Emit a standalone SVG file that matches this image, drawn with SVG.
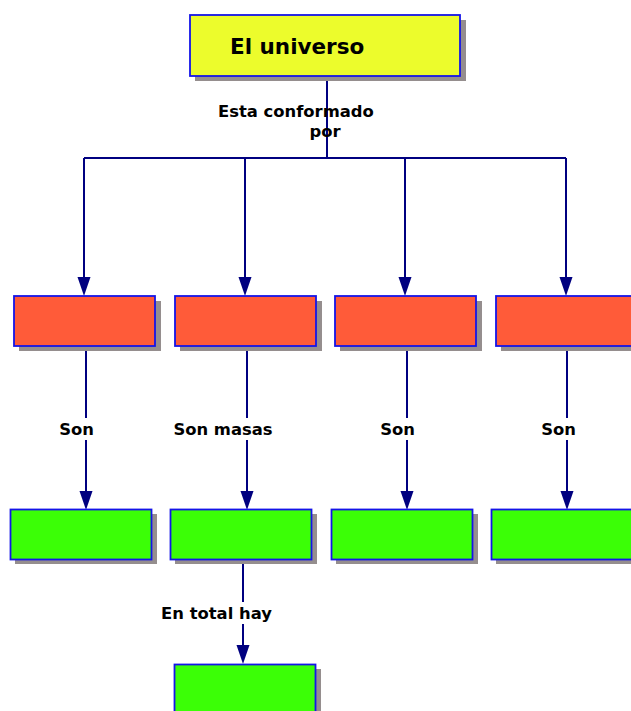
<svg xmlns="http://www.w3.org/2000/svg" width="631" height="711" viewBox="0 0 631 711">
<style>
.box{stroke:#1414e8;stroke-width:1.8}
.sh{fill:#958e8e}
.top{fill:#ecfc2c}
.org{fill:#ff5b39}
.grn{fill:#3bff06}
.ln{stroke:#000080;stroke-width:2;fill:none}
.lbl{font-family:"DejaVu Sans",Verdana,sans-serif;font-weight:bold;font-size:16.4px;fill:#000}
.bg{fill:#fff}
.ah{fill:#000080}
</style>
<g id="connectors">
<path class="ln" d="M327,77 V158"/>
<path class="ln" d="M84,158 H566"/>
<line class="ln" x1="84" y1="158" x2="84" y2="278"/>
<line class="ln" x1="245" y1="158" x2="245" y2="278"/>
<line class="ln" x1="405" y1="158" x2="405" y2="278"/>
<line class="ln" x1="566" y1="158" x2="566" y2="278"/>
<path class="ah" d="M77.5,277 H90.5 L84,296 Z"/>
<path class="ah" d="M238.5,277 H251.5 L245,296 Z"/>
<path class="ah" d="M398.5,277 H411.5 L405,296 Z"/>
<path class="ah" d="M559.5,277 H572.5 L566,296 Z"/>
<line class="ln" x1="86" y1="350" x2="86" y2="492"/>
<line class="ln" x1="247" y1="350" x2="247" y2="492"/>
<line class="ln" x1="407" y1="350" x2="407" y2="492"/>
<line class="ln" x1="567" y1="350" x2="567" y2="492"/>
<path class="ah" d="M79.5,491 H92.5 L86,510 Z"/>
<path class="ah" d="M240.5,491 H253.5 L247,510 Z"/>
<path class="ah" d="M400.5,491 H413.5 L407,510 Z"/>
<path class="ah" d="M560.5,491 H573.5 L567,510 Z"/>
<line class="ln" x1="243" y1="563" x2="243" y2="646"/>
<path class="ah" d="M236.5,645 H249.5 L243,664 Z"/>
<text class="lbl" x="218" y="117">Esta conformado</text>
<text class="lbl" x="325" y="137" text-anchor="middle">por</text>
<rect class="bg" x="57" y="418" width="39" height="22"/>
<text class="lbl" x="76.5" y="435" text-anchor="middle">Son</text>
<rect class="bg" x="171" y="418" width="104" height="22"/>
<text class="lbl" x="223" y="435" text-anchor="middle">Son masas</text>
<rect class="bg" x="378" y="418" width="39" height="22"/>
<text class="lbl" x="397.5" y="435" text-anchor="middle">Son</text>
<rect class="bg" x="539" y="418" width="39" height="22"/>
<text class="lbl" x="558.5" y="435" text-anchor="middle">Son</text>
<rect class="bg" x="159" y="602" width="116" height="22"/>
<text class="lbl" x="216.5" y="619" text-anchor="middle">En total hay</text>
</g>
<g id="n-universo">
<rect class="sh" x="195" y="20" width="271" height="61"/>
<rect class="box top" x="190" y="15" width="270" height="61"/>
<text x="230" y="54" font-family="DejaVu Sans, Verdana, sans-serif" font-weight="bold" font-size="21.5">El universo</text>
</g>
<g id="n-o1"><rect class="sh" x="19" y="301" width="142" height="50"/><rect class="box org" x="14" y="296" width="141" height="50"/></g>
<g id="n-o2"><rect class="sh" x="180" y="301" width="142" height="50"/><rect class="box org" x="175" y="296" width="141" height="50"/></g>
<g id="n-o3"><rect class="sh" x="340" y="301" width="142" height="50"/><rect class="box org" x="335" y="296" width="141" height="50"/></g>
<g id="n-o4"><rect class="sh" x="501" y="301" width="142" height="50"/><rect class="box org" x="496" y="296" width="141" height="50"/></g>
<g id="n-g1"><rect class="sh" x="15" y="514" width="142" height="50"/><rect class="box grn" x="10.5" y="509.5" width="141" height="50"/></g>
<g id="n-g2"><rect class="sh" x="175" y="514" width="142" height="50"/><rect class="box grn" x="170.5" y="509.5" width="141" height="50"/></g>
<g id="n-g3"><rect class="sh" x="336" y="514" width="142" height="50"/><rect class="box grn" x="331.5" y="509.5" width="141" height="50"/></g>
<g id="n-g4"><rect class="sh" x="496" y="514" width="142" height="50"/><rect class="box grn" x="491.5" y="509.5" width="141" height="50"/></g>
<g id="n-g5"><rect class="sh" x="179" y="669" width="142" height="50"/><rect class="box grn" x="174.5" y="664.5" width="141" height="50"/></g>
</svg>
